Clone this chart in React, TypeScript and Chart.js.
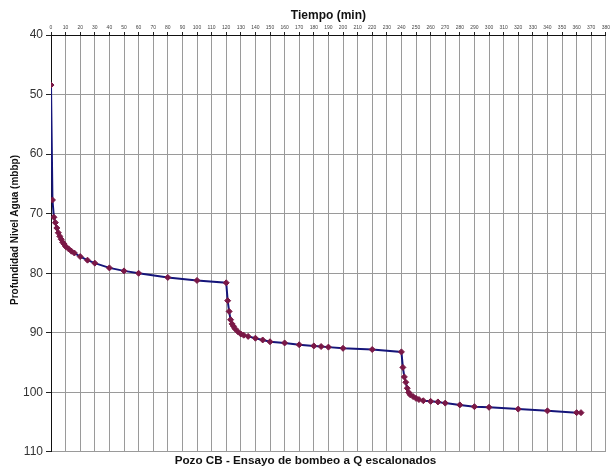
import React, { useEffect, useRef } from "react";
import { Chart, registerables } from "chart.js";

Chart.register(...registerables);

// Tiempo (min)
const tiempo: number[] = [
  0, 1, 2, 3, 4, 5, 6, 7, 8, 9, 10, 12, 14, 16, 20, 25, 30, 40, 50, 60, 80, 100, 120,
  121, 122, 123, 124, 125, 126, 128, 130, 132, 135, 140, 145, 150, 160, 170, 180, 185, 190, 200, 220, 240,
  241, 242, 243, 244, 245, 246, 248, 250, 252, 255, 260, 265, 270, 280, 290, 300, 320, 340, 360, 363,
];

// Profundidad Nivel Agua (mbbp)
const profundidad: number[] = [
  48.4, 67.7, 70.6, 71.5, 72.4, 73.2, 73.8, 74.3, 74.8, 75.1, 75.5, 75.9, 76.3, 76.6, 77.2, 77.8, 78.3, 79.1, 79.6, 80.0, 80.7, 81.2, 81.6,
  84.6, 86.4, 87.8, 88.5, 88.9, 89.3, 89.8, 90.2, 90.4, 90.6, 90.9, 91.2, 91.5, 91.7, 92.0, 92.2, 92.3, 92.4, 92.6, 92.8, 93.2,
  95.8, 97.4, 98.3, 99.3, 100.0, 100.4, 100.7, 101.0, 101.2, 101.4, 101.5, 101.6, 101.8, 102.1, 102.4, 102.5, 102.8, 103.1, 103.4, 103.4,
];

const xMin = 0;
const xMax = 380;
const xStep = 10;
const yMin = 40;
const yMax = 110;
const yStep = 10;

const xTitle = "Tiempo (min)";
const yTitle = "Profundidad Nivel Agua (mbbp)";
const chartTitle = "Pozo CB - Ensayo de bombeo a Q escalonados";

const FONT = "'Liberation Sans', Arial, Helvetica, sans-serif";

const yTitlePlugin = {
  id: "yTitlePlugin",
  afterDraw(chart: any) {
    const ctx = chart.ctx;
    ctx.save();
    ctx.translate(15, 230);
    ctx.rotate(-Math.PI / 2);
    ctx.fillStyle = "#111";
    ctx.font = `bold 10px ${FONT}`;
    ctx.textAlign = "center";
    ctx.textBaseline = "middle";
    ctx.fillText(yTitle, 0, 0);
    ctx.restore();
  },
};

export default function App() {
  const canvasRef = useRef<HTMLCanvasElement | null>(null);

  useEffect(() => {
    if (!canvasRef.current) return;
    const points = tiempo.map((t, i) => ({ x: t, y: profundidad[i] }));
    const chart = new Chart(canvasRef.current, {
      type: "scatter",
      data: {
        datasets: [
          {
            label: "Nivel",
            data: points,
            showLine: true,
            borderColor: "#15157a",
            borderWidth: 2,
            pointStyle: "rectRot",
            pointRadius: 3,
            pointBackgroundColor: "#7a1846",
            pointBorderColor: "#7a1846",
            pointBorderWidth: 1,
            tension: 0,
          },
        ],
      },
      options: {
        animation: false,
        responsive: true,
        maintainAspectRatio: false,
        layout: { padding: { left: 0, right: 0, top: 0, bottom: 0 } },
        plugins: {
          legend: { display: false },
          tooltip: { enabled: false },
          title: {
            display: true,
            text: chartTitle,
            position: "bottom",
            color: "#111",
            font: { family: FONT, size: 11.7, weight: "bold" },
            padding: { top: 2, bottom: 0 },
          },
        },
        scales: {
          x: {
            type: "linear",
            position: "top",
            min: xMin,
            max: xMax,
            ticks: {
              stepSize: xStep,
              autoSkip: false,
              maxRotation: 0,
              color: "#444",
              font: { family: FONT, size: 5 },
              padding: 1,
            },
            grid: { color: "#9a9a9a", lineWidth: 1, tickLength: 3, tickColor: "#222" },
            border: { color: "#111", width: 1 },
            title: {
              display: true,
              text: xTitle,
              color: "#111",
              font: { family: FONT, size: 12, weight: "bold" },
              padding: { top: 8, bottom: 0 },
            },
            afterFit: (scale: any) => {
              scale.height = 35;
            },
          },
          y: {
            type: "linear",
            reverse: true,
            min: yMin,
            max: yMax,
            ticks: {
              stepSize: yStep,
              color: "#333",
              font: { family: FONT, size: 12 },
              padding: 3,
            },
            grid: { color: "#9a9a9a", lineWidth: 1, tickLength: 5, tickColor: "#222" },
            border: { color: "#111", width: 1 },
            title: { display: false },
            afterFit: (scale: any) => {
              scale.width = 51;
            },
          },
        },
      },
      plugins: [yTitlePlugin],
    });
    return () => chart.destroy();
  }, []);

  return (
    <div style={{ position: "fixed", left: 0, top: 0, width: 611, height: 468, background: "#fff" }}>
      <canvas ref={canvasRef} />
    </div>
  );
}
